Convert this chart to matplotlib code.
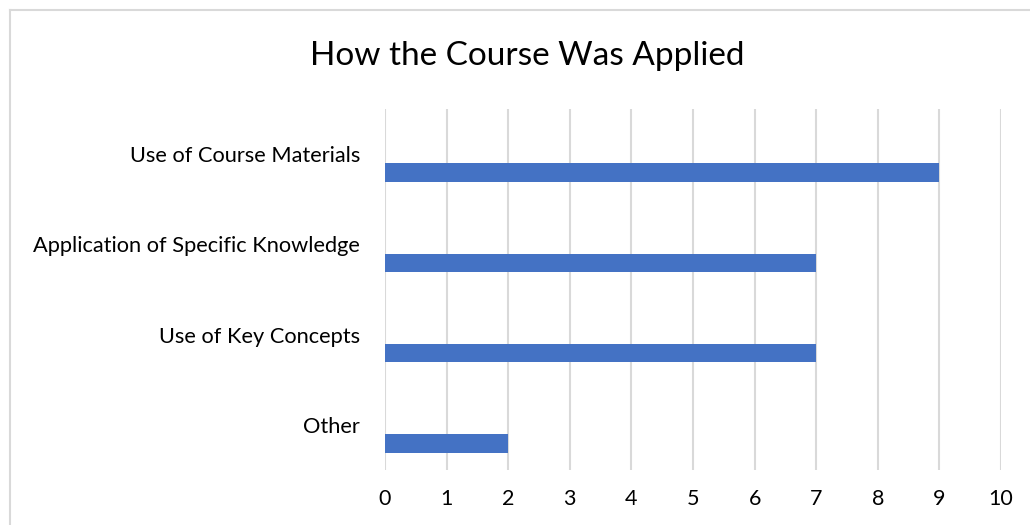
import matplotlib.pyplot as plt
from matplotlib.lines import Line2D

plt.rcParams['font.family'] = ['Lato', 'DejaVu Sans']

categories = ['Use of Course Materials', 'Application of Specific Knowledge',
              'Use of Key Concepts', 'Other']
counts = [9, 7, 7, 2]
x_ticks = list(range(0, 11))

W, H = 1030, 525
fig = plt.figure(figsize=(W / 100, H / 100), dpi=100)
ax = fig.add_axes([385 / W, 1 - 470 / H, 616 / W, 361 / H])

pos = list(range(len(categories)))
# bar sits in the lower half of each category band (Excel clustered look)
ax.barh([p + 0.205 for p in pos], counts, height=0.205, color='#4472C4', zorder=3)

ax.set_ylim(3.5, -0.5)
ax.set_xlim(0, 10)
ax.set_xticks(x_ticks)
ax.set_yticks(pos)
ax.set_yticklabels(categories, fontsize=15.7)
ax.tick_params(axis='x', labelsize=15.5, length=0, pad=14)
ax.tick_params(axis='y', length=0, pad=18)
ax.grid(axis='x', color='#d9d9d9', linewidth=1.5, zorder=0)
for s in ax.spines.values():
    s.set_visible(False)

fig.text(527 / W, 1 - 56 / H, 'How the Course Was Applied', fontsize=24,
         ha='center', va='center')

# chart border
fig.add_artist(Line2D([10 / W, 10 / W], [0, 1 - 10 / H], color='#d9d9d9', linewidth=1.5))
fig.add_artist(Line2D([10 / W, 1], [1 - 10 / H, 1 - 10 / H], color='#d9d9d9', linewidth=1.5))

fig.savefig('out.png', dpi=100)
